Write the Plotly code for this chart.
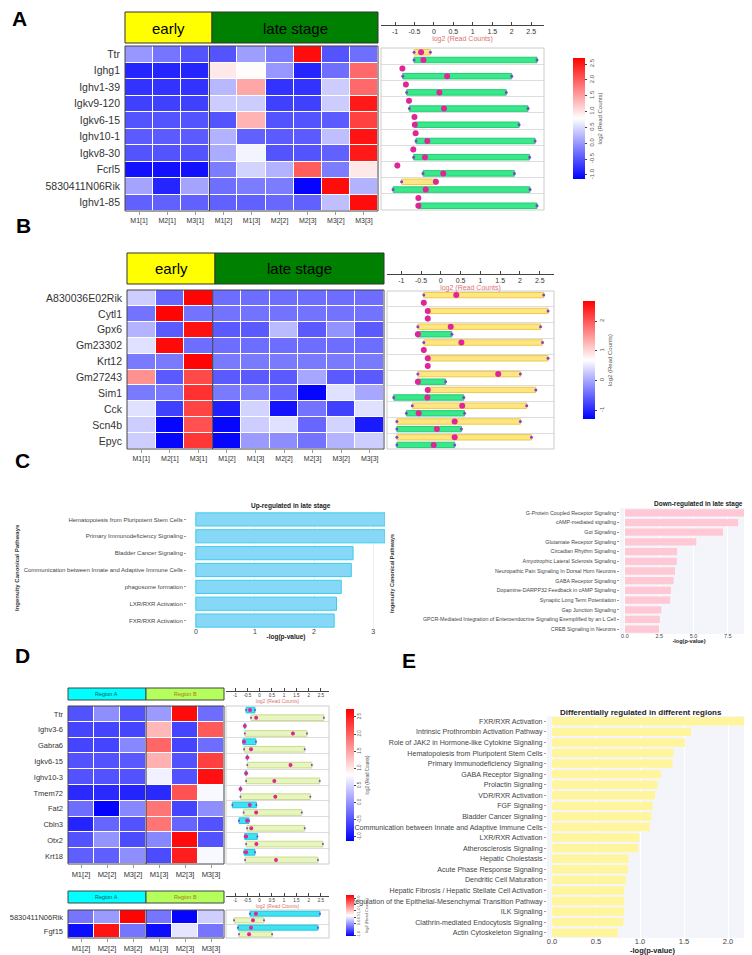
import plotly.graph_objects as go

W, H = 752, 955

# ---------------- DATA ----------------
samples_AB = ["M1[1]", "M2[1]", "M3[1]", "M1[2]", "M1[3]", "M2[2]", "M2[3]", "M3[2]", "M3[3]"]
samples_D = ["M1[2]", "M2[2]", "M3[2]", "M1[3]", "M2[3]", "M3[3]"]

genes_A = ["Ttr", "Ighg1", "Ighv1-39", "Igkv9-120", "Igkv6-15", "Ighv10-1", "Igkv8-30",
           "Fcrl5", "5830411N06Rik", "Ighv1-85"]
z_A = [
    [0.0, -0.25, -0.5, -0.5, 0.05, -0.2, 2.6, -0.5, -0.3],
    [-0.85, -0.85, -0.85, 0.95, 0.8, 0.0, -0.85, -0.3, 1.9],
    [-0.75, -0.75, -0.75, 0.25, 1.45, -0.75, -0.75, 0.4, 1.9],
    [-0.65, -0.65, -0.65, 0.4, 0.4, -0.65, -0.65, 0.4, 2.5],
    [-0.5, -0.5, -0.5, -0.5, 1.35, -0.5, -0.5, -0.45, 2.2],
    [-0.45, -0.45, -0.45, 0.2, -0.4, -0.45, -0.45, 0.3, 2.55],
    [-0.5, -0.5, -0.5, 0.15, 0.7, -0.5, -0.5, -0.4, 2.5],
    [-1.0, -1.0, -1.0, -0.2, 0.45, 0.2, 2.0, -0.2, 0.95],
    [0.1, -0.85, 0.1, -0.3, -0.2, -0.2, -1.1, 2.6, 0.2],
    [-0.4, -0.4, -0.4, -0.4, -0.4, -0.35, -0.4, 0.3, 2.6],
]
A_early_min = [-0.51, -0.81, -0.72, -0.64, -0.50, -0.47, -0.53, -0.94, -0.83, -0.40]
A_early_med = [-0.33, -0.81, -0.72, -0.64, -0.50, -0.47, -0.53, -0.94, 0.05, -0.40]
A_early_max = [-0.09, -0.81, -0.72, -0.64, -0.50, -0.47, -0.53, -0.94, 0.07, -0.40]
A_late_min = [-0.51, -0.80, -0.70, -0.63, -0.49, -0.46, -0.52, -0.28, -1.05, -0.40]
A_late_med = [-0.27, 0.34, 0.14, 0.26, -0.49, -0.17, -0.23, 0.24, -0.21, -0.40]
A_late_max = [2.65, 2.00, 1.86, 2.42, 2.19, 2.60, 2.46, 2.07, 2.47, 2.65]

genes_B = ["A830036E02Rik", "Cytl1", "Gpx6", "Gm23302", "Krt12", "Gm27243", "Sim1",
           "Cck", "Scn4b", "Epyc"]
z_B = [
    [0.3, -0.5, 2.65, -0.45, -0.45, -0.45, -0.45, -0.45, -0.45],
    [-0.4, 2.65, -0.4, -0.4, -0.4, -0.4, -0.4, -0.4, -0.4],
    [0.1, -0.6, 2.55, -0.6, -0.6, 0.15, -0.6, -0.15, -0.6],
    [0.45, 2.6, -0.45, -0.45, -0.45, -0.45, -0.45, -0.45, -0.45],
    [-0.35, -0.35, 2.65, -0.35, -0.35, -0.35, -0.35, -0.35, -0.35],
    [1.55, -0.6, 2.1, -0.6, -0.6, -0.6, 0.0, -0.6, -0.6],
    [-0.35, -0.35, 2.3, -0.35, -0.3, -0.5, -1.25, 0.45, 0.0],
    [0.45, -0.8, 2.15, -1.05, 0.35, -1.15, -0.4, -0.8, 0.45],
    [0.3, -1.25, 2.05, -1.25, 0.3, 0.45, -0.5, 0.35, -1.1],
    [0.3, -1.25, 2.25, -1.25, -0.1, -0.2, -0.4, 0.1, 0.3],
]
B_early_min = [-0.43, -0.33, -0.58, -0.43, -0.33, -0.58, -0.33, -0.72, -1.11, -1.11]
B_early_med = [0.39, -0.33, 0.25, 0.52, -0.33, 1.45, -0.33, 0.54, 0.35, 0.35]
B_early_max = [2.60, 2.71, 2.52, 2.57, 2.71, 2.01, 2.40, 2.17, 2.01, 2.29]
B_late_min = [-0.43, -0.33, -0.60, -0.43, -0.33, -0.60, -1.19, -0.87, -1.11, -1.11]
B_late_med = [-0.43, -0.33, -0.58, -0.43, -0.33, -0.58, -0.34, -0.56, -0.10, -0.18]
B_late_max = [-0.43, -0.33, 0.28, -0.43, -0.33, 0.12, 0.58, 0.60, 0.52, 0.35]

up_paths = ["Hematopoiesis from Pluripotent Stem Cells", "Primary Immunodeficiency Signaling",
            "Bladder Cancer Signaling", "Communication between Innate and Adaptive Immune Cells",
            "phagosome formation", "LXR/RXR Activation", "FXR/RXR Activation"]
up_vals = [3.2, 3.2, 2.66, 2.63, 2.46, 2.38, 2.34]

down_paths = ["G-Protein Coupled Receptor Signaling", "cAMP-mediated signaling", "Gαi Signaling",
              "Glutamate Receptor Signaling", "Circadian Rhythm Signaling",
              "Amyotrophic Lateral Sclerosis Signaling",
              "Neuropathic Pain Signaling In Dorsal Horn Neurons", "GABA Receptor Signaling",
              "Dopamine-DARPP32 Feedback in cAMP Signaling", "Synaptic Long Term Potentiation",
              "Gap Junction Signaling",
              "GPCR-Mediated Integration of Enteroendocrine Signaling Exemplified by an L Cell",
              "CREB Signaling in Neurons"]
down_vals = [9.2, 8.25, 7.15, 5.2, 3.8, 3.78, 3.65, 3.55, 3.35, 3.3, 2.65, 2.55, 2.5]

genes_D = ["Ttr", "Ighv3-6", "Gabra6", "Igkv6-15", "Ighv10-3", "Tmem72", "Fat2", "Cbln3",
           "Otx2", "Krt18"]
z_D = [
    [-0.5, -0.05, -0.5, 0.05, 2.65, -0.3],
    [-0.6, -0.6, -0.6, 1.35, -0.6, 2.05],
    [-0.6, -0.6, -0.1, 1.95, -0.6, -0.3],
    [-0.5, -0.5, -0.45, 1.4, -0.5, 2.25],
    [-0.5, -0.5, -0.5, 0.7, -0.5, 2.6],
    [-0.8, -0.8, -0.85, -0.8, 2.1, 0.75],
    [-0.3, -1.1, -0.1, 1.85, -0.6, -0.05],
    [-0.85, -0.35, -0.5, 1.85, -0.35, -0.5],
    [-0.5, 0.0, -0.55, -0.1, 2.65, -0.5],
    [-0.4, -0.4, -0.05, -0.55, 2.5, 0.75],
]
D_a_min = [-0.55, -0.60, -0.68, -0.50, -0.55, -0.78, -1.11, -0.84, -0.61, -0.63]
D_a_med = [-0.39, -0.60, -0.63, -0.50, -0.55, -0.78, -0.40, -0.51, -0.55, -0.55]
D_a_max = [-0.19, -0.60, -0.15, -0.50, -0.55, -0.78, -0.13, -0.43, -0.09, -0.19]
D_b_min = [-0.35, -0.60, -0.63, -0.50, -0.55, -0.78, -0.65, -0.51, -0.55, -0.59]
D_b_med = [-0.14, 1.36, -0.35, 1.26, 0.60, 0.64, -0.14, -0.34, -0.13, 0.67]
D_b_max = [2.62, 1.93, 1.84, 2.13, 2.45, 2.07, 1.72, 1.84, 2.58, 2.38]

genes_D2 = ["5830411N06Rik", "Fgf15"]
z_D2 = [
    [-0.3, -0.05, 2.3, -0.3, -1.05, 0.3],
    [-1.0, 2.2, -0.3, -1.0, 0.45, -0.3],
]
D2_a_min = [-0.39, -0.88]
D2_a_med = [-0.15, -0.35]
D2_a_max = [2.46, 2.38]
D2_b_min = [-1.04, -0.84]
D2_b_med = [-0.27, -0.43]
D2_b_max = [0.18, 0.51]

e_paths = ["FXR/RXR Activation", "Intrinsic Prothrombin Activation Pathway",
           "Role of JAK2 in Hormone-like Cytokine Signaling",
           "Hematopoiesis from Pluripotent Stem Cells", "Primary Immunodeficiency Signaling",
           "GABA Receptor Signaling", "Prolactin Signaling", "VDR/RXR Activation",
           "FGF Signaling", "Bladder Cancer Signaling",
           "Communication between Innate and Adaptive Immune Cells", "LXR/RXR Activation",
           "Atherosclerosis Signaling", "Hepatic Cholestasis", "Acute Phase Response Signaling",
           "Dendritic Cell Maturation", "Hepatic Fibrosis / Hepatic Stellate Cell Activation",
           "Regulation of the Epithelial-Mesenchymal Transition Pathway", "ILK Signaling",
           "Clathrin-mediated Endocytosis Signaling", "Actin Cytoskeleton Signaling"]
e_vals = [2.24, 1.58, 1.51, 1.38, 1.37, 1.24, 1.20, 1.17, 1.14, 1.13, 1.11, 0.99, 0.98,
          0.87, 0.86, 0.84, 0.82, 0.82, 0.82, 0.81, 0.75]

vtick_vals = [-1, -0.5, 0, 0.5, 1, 1.5, 2, 2.5]
vtick_text = ["-1", "-0.5", "0", "0.5", "1", "1.5", "2", "2.5"]

# ---------------- HELPERS ----------------
FONT = "Liberation Sans, Arial, sans-serif"
CS = [[0, "#0000FF"], [0.5, "#FFFFFF"], [1, "#FF0000"]]


def xd(x0, x1):
    return [x0 / W, x1 / W]


def yd(y0, y1):
    return [1 - y1 / H, 1 - y0 / H]


def cbar(x, ytop, length, thick, tv, tt, fs):
    return dict(x=x / W, xanchor="left", y=1 - ytop / H, yanchor="top", len=length,
                lenmode="pixels", thickness=thick, thicknessmode="pixels", xpad=0, ypad=0,
                outlinewidth=0, tickvals=tv, ticktext=tt, ticks="outside", ticklen=2,
                tickfont=dict(size=fs, color="#555", family=FONT), tickangle=-90,
                title=dict(text="log2 (Read Counts)", side="right",
                           font=dict(size=fs, color="#555", family=FONT)))


fig = go.Figure()
shapes = []
annotations = []


def rect(x0, y0, x1, y1, fill, line="#333", lw=1):
    shapes.append(dict(type="rect", xref="paper", yref="paper", x0=x0 / W, x1=x1 / W,
                       y0=1 - y1 / H, y1=1 - y0 / H, fillcolor=fill,
                       line=dict(color=line, width=lw), layer="above"))


def text(x, y, s, size, color="black", bold=False, angle=0, xanchor="center"):
    annotations.append(dict(x=x / W, y=1 - y / H, xref="paper", yref="paper",
                            text=("<b>%s</b>" % s) if bold else s, showarrow=False,
                            xanchor=xanchor, yanchor="middle", textangle=angle,
                            font=dict(size=size, color=color, family=FONT)))


def dom_box(ax, color="#CCCCCC", lw=1):
    shapes.append(dict(type="rect", xref="%s domain" % ax[0], yref="%s domain" % ax[1],
                       x0=0, x1=1, y0=0, y1=1, line=dict(color=color, width=lw),
                       fillcolor="rgba(0,0,0,0)", layer="above"))


def heat_divider(ax):
    shapes.append(dict(type="line", xref=ax[0], yref="%s domain" % ax[1], x0=2.5, x1=2.5,
                       y0=0, y1=1, line=dict(color="#333", width=1), layer="above"))


def violins(ax, n, a_min, a_med, a_max, b_min, b_med, b_max, ca, cb_, width, off, msize):
    pa = [i - off for i in range(n)]
    pb = [i + off for i in range(n)]
    for pos, mn, md, mx, col in [(pa, a_min, a_med, a_max, ca), (pb, b_min, b_med, b_max, cb_)]:
        fig.add_trace(go.Box(orientation="h", y=pos, q1=mn, median=md, q3=mx,
                             lowerfence=mn, upperfence=mx, width=width,
                             fillcolor=col[0], line=dict(color=col[1], width=1),
                             xaxis=ax[0], yaxis=ax[1], hoverinfo="skip", boxpoints=False))
        fig.add_trace(go.Scatter(x=mn + mx, y=pos + pos, mode="markers",
                                 marker=dict(color="#8A3FD0", size=max(2, msize - 3)),
                                 xaxis=ax[0], yaxis=ax[1], hoverinfo="skip"))
        fig.add_trace(go.Scatter(x=md, y=pos, mode="markers",
                                 marker=dict(color="#E0259A", size=msize),
                                 xaxis=ax[0], yaxis=ax[1], hoverinfo="skip"))


layout_axes = {}


def heat_axes(i, xdom, ydom, xfs, yfs):
    layout_axes["xaxis%d" % i] = dict(domain=xdom, anchor="y%d" % i, showgrid=False,
                                      zeroline=False, ticks="outside", ticklen=3,
                                      tickcolor="#999", automargin=False,
                                      tickfont=dict(size=xfs, color="#333", family=FONT))
    layout_axes["yaxis%d" % i] = dict(domain=ydom, anchor="x%d" % i, showgrid=False,
                                      zeroline=False, autorange="reversed", ticks="",
                                      automargin=False, ticklabelstandoff=4,
                                      tickfont=dict(size=yfs, color="#333", family=FONT))


def vio_axes(i, xdom, ydom, xr, n, axis_y, fs, tfs):
    layout_axes["xaxis%d" % i] = dict(domain=xdom, anchor="free", position=1 - axis_y / H,
                                      side="bottom", range=xr, showgrid=False,
                                      zeroline=False, showline=True, linecolor="#444",
                                      linewidth=1, ticks="inside", ticklen=3,
                                      tickcolor="#444", tickvals=vtick_vals,
                                      ticktext=vtick_text, automargin=False,
                                      tickfont=dict(size=fs, color="#333", family=FONT),
                                      title=dict(text="log2 (Read Counts)", standoff=1,
                                                 font=dict(size=tfs, color="#E07272",
                                                           family=FONT)))
    layout_axes["yaxis%d" % i] = dict(domain=ydom, anchor="x%d" % i, range=[n - 0.5, -0.5],
                                      tickvals=[k + 0.5 for k in range(n - 1)],
                                      showticklabels=False, ticks="", showgrid=True,
                                      gridcolor="#DDDDDD", gridwidth=1, zeroline=False,
                                      automargin=False)


def bar_axes(i, xdom, ydom, xr, tv, tt, xfs, yfs, title_fs, grid):
    layout_axes["xaxis%d" % i] = dict(domain=xdom, anchor="y%d" % i, range=xr, tickvals=tv,
                                      ticktext=tt, showgrid=True, gridcolor=grid,
                                      zeroline=False, ticks="", ticklabelstandoff=-3,
                                      automargin=False,
                                      tickfont=dict(size=xfs, color="#444", family=FONT),
                                      title=dict(text="<b>-log(p-value)</b>", standoff=0,
                                                 font=dict(size=title_fs, color="#222",
                                                           family=FONT)))
    layout_axes["yaxis%d" % i] = dict(domain=ydom, anchor="x%d" % i, autorange="reversed",
                                      showgrid=False, zeroline=False, ticks="outside",
                                      ticklen=2, tickcolor="#999", automargin=False,
                                      tickfont=dict(size=yfs, color="#444", family=FONT))


# ---------------- PANEL A ----------------
fig.add_trace(go.Heatmap(z=z_A, x=samples_AB, y=genes_A, colorscale=CS, zmin=-1.13, zmax=2.69,
                         xgap=1, ygap=1, xaxis="x", yaxis="y", hoverinfo="skip",
                         colorbar=cbar(565, 50, 121, 12, vtick_vals,
                                       ["-1.0", "-0.5", "0.0", "0.5", "1.0", "1.5", "2.0", "2.5"], 6)))
heat_axes(1, xd(117, 370), yd(38, 203), 7, 10.5)
layout_axes["xaxis"] = layout_axes.pop("xaxis1")
layout_axes["yaxis"] = layout_axes.pop("yaxis1")
layout_axes["xaxis"]["anchor"] = "y"
layout_axes["yaxis"]["anchor"] = "x"
dom_box(("x", "y"), "#444")
heat_divider(("x", "y"))
rect(117, 4, 204, 35, "#FFFF00")
rect(204, 4, 370, 35, "#008000")
text(160, 20, "early", 15)
text(287, 20, "late stage", 15)

violins(("x2", "y2"), 10, A_early_min, A_early_med, A_early_max, A_late_min, A_late_med,
        A_late_max, ("#FFE680", "#EBC84E"), ("#38E88A", "#22CC72"), 0.34, 0.24, 6)
vio_axes(2, xd(373, 536), yd(40, 202), [-1.36, 2.83], 10, 17, 7, 7)
dom_box(("x2", "y2"))

# ---------------- PANEL B ----------------
fig.add_trace(go.Heatmap(z=z_B, x=samples_AB, y=genes_B, colorscale=CS, zmin=-1.3, zmax=2.68,
                         xgap=1, ygap=1, xaxis="x3", yaxis="y3", hoverinfo="skip",
                         colorbar=cbar(575, 293, 118, 12, [-1, 0, 1, 2], ["-1", "0", "1", "2"], 6)))
heat_axes(3, xd(119, 376), yd(282, 441), 7, 10.5)
dom_box(("x3", "y3"), "#444")
heat_divider(("x3", "y3"))
rect(119, 245, 207, 276, "#FFFF00")
rect(207, 245, 376, 276, "#008000")
text(163, 261, "early", 15)
text(291, 261, "late stage", 15)

violins(("x4", "y4"), 10, B_early_min, B_early_med, B_early_max, B_late_min, B_late_med,
        B_late_max, ("#FFE680", "#EBC84E"), ("#38E88A", "#22CC72"), 0.34, 0.24, 6)
vio_axes(4, xd(379, 546), yd(283, 441), [-1.36, 2.86], 10, 266, 7, 7)
dom_box(("x4", "y4"))

# ---------------- PANEL C ----------------
fig.add_trace(go.Bar(orientation="h", x=up_vals, y=up_paths, width=0.78,
                     marker=dict(color="#87D8F7", line=dict(color="#3CCCEE", width=1)),
                     xaxis="x5", yaxis="y5", hoverinfo="skip"))
bar_axes(5, xd(179, 377), yd(503, 621), [-0.15, 3.2], [0, 1, 2, 3], ["0", "1", "2", "3"],
         7, 6, 6.5, "#EEEEEE")
text(283, 498, "Up-regulated in late stage", 6.5, "#222", bold=True)
text(9, 560, "Ingenuity Canonical Pathways", 6, "#333", bold=True, angle=-90)

shapes.append(dict(type="rect", xref="x6 domain", yref="y6 domain", x0=0, x1=1, y0=0, y1=1,
                   fillcolor="#F4F5FB", line=dict(width=0), layer="below"))
fig.add_trace(go.Bar(orientation="h", x=down_vals, y=down_paths, width=0.75,
                     marker=dict(color="#FFC8D4", line=dict(width=0)),
                     xaxis="x6", yaxis="y6", hoverinfo="skip"))
bar_axes(6, xd(612, 750), yd(500, 626), [-0.36, 9.7], [0, 2.5, 5, 7.5],
         ["0.0", "2.5", "5.0", "7.5"], 5.5, 5.3, 5.5, "#FFFFFF")
text(690, 496, "Down-regulated in late stage", 6.5, "#222", bold=True)
text(384, 565, "Ingenuity Canonical Pathways", 5.5, "#333", bold=True, angle=-90)

# ---------------- PANEL D ----------------
fig.add_trace(go.Heatmap(z=z_D, x=samples_D, y=genes_D, colorscale=CS, zmin=-1.12, zmax=2.73,
                         xgap=1, ygap=1, xaxis="x7", yaxis="y7", hoverinfo="skip",
                         colorbar=cbar(338, 701, 132, 8, vtick_vals,
                                       ["-1.0", "-0.5", "0.0", "0.5", "1.0", "1.5", "2.0", "2.5"], 4.5)))
heat_axes(7, xd(60, 216), yd(698, 856), 7.5, 7.5)
dom_box(("x7", "y7"), "#444")
heat_divider(("x7", "y7"))
rect(60, 680, 138, 692, "#00FFFF", "#444")
rect(138, 680, 216, 692, "#B4FF5C", "#444")
text(99, 686, "Region A", 5.5, "#1A5A5A")
text(177, 686, "Region B", 5.5, "#B0761A")

violins(("x8", "y8"), 10, D_a_min, D_a_med, D_a_max, D_b_min, D_b_med, D_b_max,
        ("#40E2F2", "#22C8E0"), ("#E8F5C0", "#C9DC8C"), 0.36, 0.24, 4)
vio_axes(8, xd(218, 321), yd(698, 856), [-1.37, 2.83], 10, 683, 4.5, 5)
dom_box(("x8", "y8"))

fig.add_trace(go.Heatmap(z=z_D2, x=samples_D, y=genes_D2, colorscale=CS, zmin=-1.08, zmax=2.33,
                         xgap=1, ygap=1, xaxis="x9", yaxis="y9", hoverinfo="skip",
                         colorbar=cbar(338, 887, 41, 8, [-1, 0, 0.5, 1, 1.5, 2],
                                       ["-1.0", "0.0", "0.5", "1.0", "1.5", "2.0"], 4)))
heat_axes(9, xd(60, 216), yd(902, 930), 7.5, 7.5)
dom_box(("x9", "y9"), "#444")
heat_divider(("x9", "y9"))
rect(60, 883, 138, 895, "#00FFFF", "#444")
rect(138, 883, 216, 895, "#B4FF5C", "#444")
text(99, 889, "Region A", 5.5, "#1A5A5A")
text(177, 889, "Region B", 5.5, "#B0761A")

violins(("x10", "y10"), 2, D2_a_min, D2_a_med, D2_a_max, D2_b_min, D2_b_med, D2_b_max,
        ("#40E2F2", "#22C8E0"), ("#E8F5C0", "#C9DC8C"), 0.36, 0.24, 4)
vio_axes(10, xd(218, 321), yd(902, 930), [-1.37, 2.83], 2, 888, 4.5, 5)
dom_box(("x10", "y10"))

# ---------------- PANEL E ----------------
shapes.append(dict(type="rect", xref="x11 domain", yref="y11 domain", x0=0, x1=1, y0=0, y1=1,
                   fillcolor="#F4F5FB", line=dict(width=0), layer="below"))
fig.add_trace(go.Bar(orientation="h", x=e_vals, y=e_paths, width=0.8,
                     marker=dict(color="#FFF59C", line=dict(width=0)),
                     xaxis="x11", yaxis="y11", hoverinfo="skip"))
bar_axes(11, xd(539, 750), yd(708, 930), [-0.057, 2.34], [0, 0.5, 1, 1.5, 2],
         ["0.0", "0.5", "1.0", "1.5", "2.0"], 7.5, 7.1, 7.5, "#FFFFFF")
text(633, 704, "Differentially regulated in different regions", 8, "#222", bold=True)

# ---------------- PANEL LETTERS ----------------
for lab, x, y in [("A", 12, 11), ("B", 15, 218), ("C", 14, 453), ("D", 14, 647), ("E", 401, 652)]:
    text(x, y, lab, 21, "black", bold=True)

fig.update_layout(width=W, height=H, margin=dict(l=0, r=0, t=0, b=0), template="none",
                  paper_bgcolor="white", plot_bgcolor="rgba(0,0,0,0)", showlegend=False,
                  boxmode="overlay", shapes=shapes, annotations=annotations,
                  font=dict(family=FONT), **layout_axes)

fig.write_html("out.html")
